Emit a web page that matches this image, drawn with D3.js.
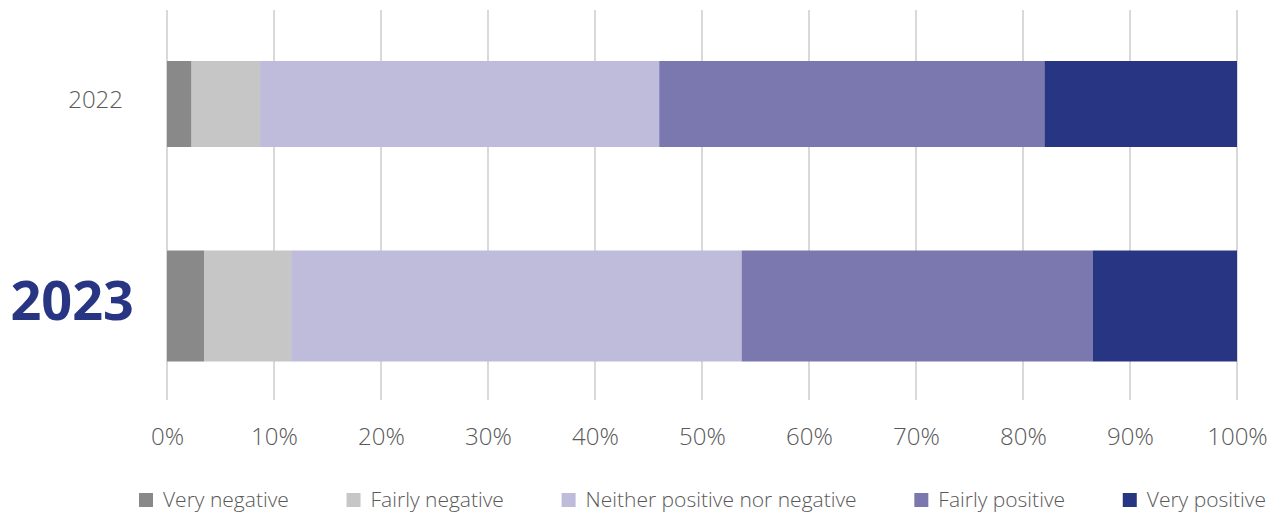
<!DOCTYPE html>
<html>
<head>
<meta charset="utf-8">
<script src="https://cdn.jsdelivr.net/npm/d3@7"></script>
<style>
  html, body { margin: 0; padding: 0; background: #fff; }
  svg { display: block; }
  text { font-family: "Open Sans", "Noto Sans", sans-serif; }
</style>
</head>
<body>
<svg id="chart" width="1281" height="513"></svg>
<script>
// Survey responses by year, share of respondents (%)
const years = ["2022", "2023"];
const categories = ["Very negative", "Fairly negative", "Neither positive nor negative", "Fairly positive", "Very positive"];
const veryNegative    = [2.3, 3.5];
const fairlyNegative  = [6.4, 8.1];
const neither         = [37.3, 42.1];
const fairlyPositive  = [36.0, 32.8];
const veryPositive    = [18.0, 13.5];
const tickValues = [0, 10, 20, 30, 40, 50, 60, 70, 80, 90, 100];
const colors = ["#898989", "#c6c6c6", "#bebbdb", "#7b78b0", "#283583"];
const highlightYear = "2023";

const rows = years.map((y, i) => ({
  year: y,
  "Very negative": veryNegative[i],
  "Fairly negative": fairlyNegative[i],
  "Neither positive nor negative": neither[i],
  "Fairly positive": fairlyPositive[i],
  "Very positive": veryPositive[i]
}));

const svg = d3.select("#chart");
const W = 1281;

const x = d3.scaleLinear().domain([0, 100]).range([167, 1237]);
// category centres on the vertical axis
const y = d3.scalePoint().domain(years).range([104, 306]);

// vertical gridlines
svg.append("g").selectAll("line").data(tickValues).join("line")
  .attr("x1", d => x(d)).attr("x2", d => x(d))
  .attr("y1", 10).attr("y2", 400)
  .attr("stroke", "#d9d9d9").attr("stroke-width", 2);

// stacked bars
const stack = d3.stack().keys(categories)(rows);
const color = d3.scaleOrdinal().domain(categories).range(colors);
// the highlighted year is drawn thicker
const barH = d => d.data.year === highlightYear ? 111 : 86;
const barY = d => y(d.data.year) - barH(d) / 2;

svg.append("g").selectAll("g").data(stack).join("g")
  .attr("fill", s => color(s.key))
  .selectAll("rect").data(s => s).join("rect")
  .attr("x", d => x(d[0]))
  .attr("width", d => x(d[1]) - x(d[0]))
  .attr("y", barY)
  .attr("height", barH);

// x axis labels
const xAxis = d3.axisBottom(x).tickValues(tickValues).tickFormat(d => d + "%").tickSize(0).tickPadding(0);
const gx = svg.append("g").attr("transform", "translate(0,445)").call(xAxis);
gx.select(".domain").remove();
gx.selectAll("text").attr("font-size", 24).attr("fill", "#595959")
  .attr("font-family", "\"Open Sans\", sans-serif").attr("font-weight", 300).attr("dy", 0);

// y axis labels
const yAxis = d3.axisLeft(y).tickSize(0).tickPadding(0);
const gy = svg.append("g").call(yAxis);
gy.select(".domain").remove();
gy.selectAll(".tick").attr("transform", d => `translate(${d === highlightYear ? 134 : 123},${y(d) + (d === highlightYear ? -5 : -4)})`);
gy.selectAll("text")
  .attr("font-family", "\"Open Sans\", sans-serif")
  .attr("font-size", d => d === highlightYear ? 54 : 24)
  .attr("font-weight", d => d === highlightYear ? 700 : 300)
  .attr("fill", d => d === highlightYear ? "#283583" : "#595959")
  .attr("dy", "0.35em")
  .attr("x", 0);

// legend spread across the full width under the plot
const legendLeft = 139, legendRight = 1266;
const legend = svg.append("g");
const items = categories.map((c, i) => {
  const item = legend.append("g");
  item.append("rect").attr("x", 0).attr("y", 493).attr("width", 14).attr("height", 14).attr("fill", colors[i]);
  const t = item.append("text").attr("x", 24).attr("y", 500).attr("dy", "0.35em")
    .attr("font-size", 21).attr("font-weight", 300).attr("fill", "#595959").text(c);
  return { item, w: 24 + t.node().getComputedTextLength() };
});
const totalW = d3.sum(items, d => d.w);
const gap = (legendRight - legendLeft - totalW) / (items.length - 1);
let lx = legendLeft;
items.forEach(d => {
  d.item.attr("transform", `translate(${lx},0)`);
  lx += d.w + gap;
});
</script>
</body>
</html>
